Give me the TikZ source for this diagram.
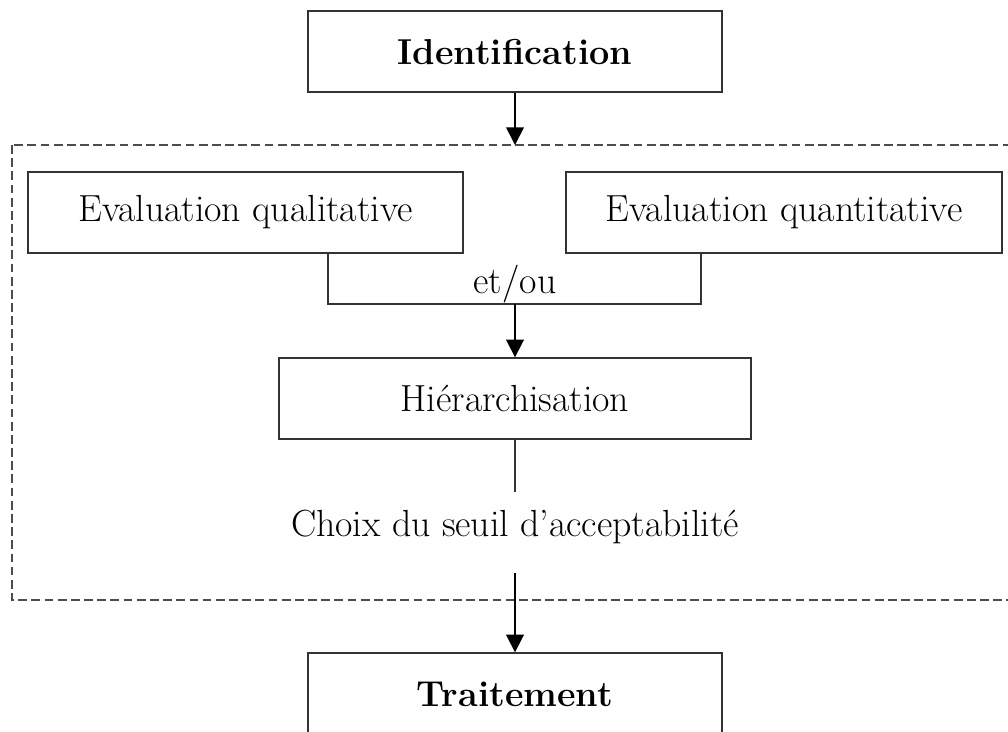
\documentclass[tikz,border=0pt]{standalone}
\usetikzlibrary{arrows.meta}

\begin{document}
\begin{tikzpicture}[x=0.02cm, y=-0.02cm,
    box/.style={rectangle, draw=black!80, line width=0.8pt, minimum height=1.62cm, inner sep=0pt, font=\fontsize{21.5}{26}\selectfont},
    arr/.style={line width=1pt, -{Triangle[width=10pt, length=10pt]}},
    lnk/.style={line width=0.8pt, draw=black!80}]
                \useasboundingbox (0, 0) rectangle (1008, 731);
                \node[box, minimum width=8.28cm] (ident) at (515, 51.5) {\fontsize{20.5}{24}\selectfont\bfseries Identification};
                \node[box, minimum width=8.7cm] (qual) at (245.5, 212.5) {Evaluation qualitative};
                \node[box, minimum width=8.72cm] (quant) at (784, 212.5) {Evaluation quantitative};
                \node[box, minimum width=9.44cm] (hier) at (515, 398.5) {Hi\'erarchisation};
                \node[inner sep=0pt, minimum height=1.4cm, font=\fontsize{21.5}{26}\selectfont] (choix) at (515, 527) {Choix du seuil d'acceptabilit\'e};
                \node[box, minimum width=8.28cm, minimum height=1.64cm] (trait) at (515, 694) {\fontsize{20.5}{24}\selectfont\bfseries Traitement};
                % zone d'analyse
                \draw[dashed, line width=0.8pt, black!70, dash pattern=on 5pt off 2.5pt] (12, 145) rectangle (1012, 600);
                \coordinate (zone) at (515, 145);
                \coordinate (jL) at (328, 304);
                \coordinate (jR) at (701, 304);
                \coordinate (join) at (515, 304);
                \draw[arr] (ident) -- (zone);
                \draw[lnk] (jL |- qual.south) -- (jL) -- (jR) -- (jR |- quant.south);
                \node[inner sep=0pt, anchor=south, font=\fontsize{21.5}{26}\selectfont] (etou) at (515, 303) {et/ou};
                \draw[arr] (join) -- (hier);
                \draw[lnk] (hier) -- (choix);
                \draw[arr, shorten <=0.22cm] (choix) -- (trait);
            \end{tikzpicture}
\end{document}
